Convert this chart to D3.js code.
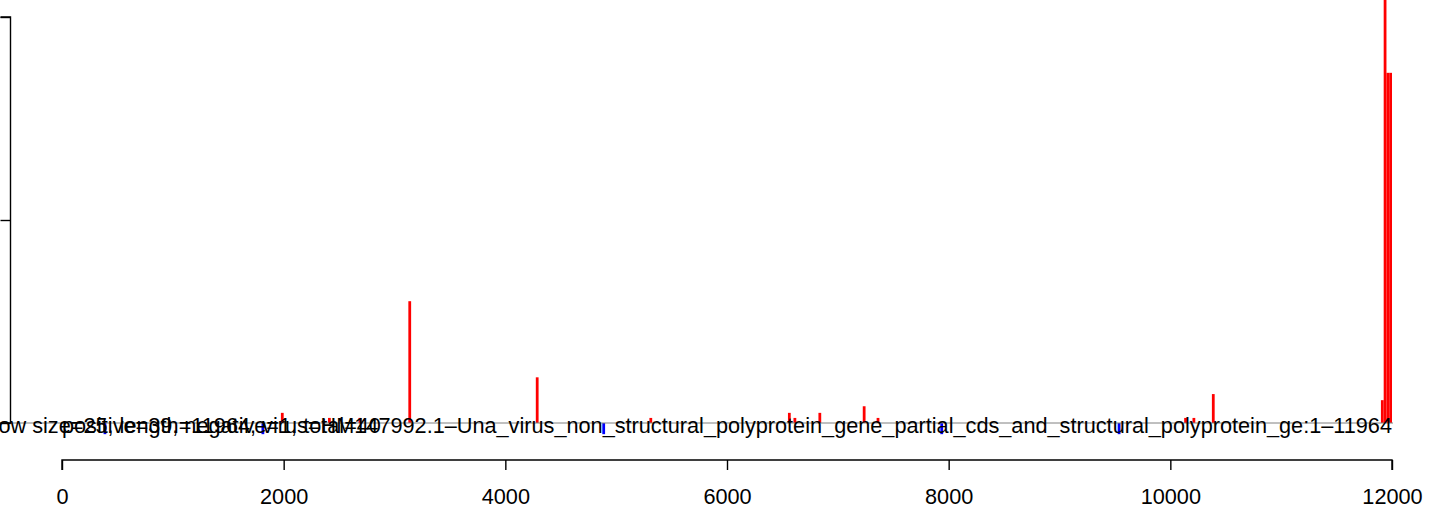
<!DOCTYPE html>
<html>
<head>
<meta charset="utf-8">
<script src="https://cdn.jsdelivr.net/npm/d3@7"></script>
<style>
  html, body { margin: 0; padding: 0; background: #fff; }
  svg { display: block; }
</style>
</head>
<body>
<svg id="chart" width="1440" height="510"></svg>
<script>
// ---- data ----
const redPositions = [1975, 2400, 2675, 3125, 4275, 5300, 6550, 6600, 6825, 7225, 7350, 10125, 10200, 10375, 11900, 11925, 11950, 11975];
const redValues    = [2, 1, 1, 24, 9, 1, 2, 1, 2, 3.3, 1, 1, 1, 5.7, 4.5, 84, 69, 69];
const bluePositions = [375, 1800, 4875, 7925, 9525];
const blueValues    = [-2.2, -2.2, -2.2, -2.2, -2.2];
const binWidth = 25;
const xTickValues = [0, 2000, 4000, 6000, 8000, 10000, 12000];
const yTickValues = [0, 40, 80];
const annotationMain = "window size=25, length=11964, virus=HM147992.1\u2013Una_virus_non_structural_polyprotein_gene_partial_cds_and_structural_polyprotein_ge:1\u201311964";
const annotationCounts = "positive=39, negative=1, total=40";

// ---- drawing ----
const svg = d3.select("#chart");
const font = "'Liberation Sans', Arial, Helvetica, sans-serif";
const fs = 21.7;

const x = d3.scaleLinear().domain([0, 12000]).range([62, 1392]);
const y = d3.scaleLinear().domain([0, 80]).range([423, 17]);

svg.append("rect").attr("width", 1440).attr("height", 510).attr("fill", "#fff");

const red = redPositions.map((p, i) => ({ p, v: redValues[i] }));
const blue = bluePositions.map((p, i) => ({ p, v: blueValues[i] }));

svg.append("g").selectAll("rect").data(red).join("rect")
  .attr("x", d => x(d.p))
  .attr("width", d => x(d.p + binWidth) - x(d.p))
  .attr("y", d => y(d.v))
  .attr("height", d => y(0) - y(d.v))
  .attr("fill", "#ff0000");

svg.append("g").selectAll("rect").data(blue).join("rect")
  .attr("x", d => x(d.p))
  .attr("width", d => x(d.p + binWidth) - x(d.p))
  .attr("y", y(0))
  .attr("height", d => y(d.v) - y(0))
  .attr("fill", "#0000ff");

// baseline
svg.append("line")
  .attr("x1", 0).attr("x2", 1393)
  .attr("y1", y(0)).attr("y2", y(0))
  .attr("stroke", "#808080").attr("stroke-width", 1);

// y axis (labels fall off-canvas)
const yAxis = d3.axisLeft(y).tickValues(yTickValues).tickSize(10).tickPadding(6);
const gy = svg.append("g").attr("transform", "translate(10.5,0)").call(yAxis);
gy.select(".domain").attr("d", `M-10,${y(80)}H0V${y(0)}H-10`).attr("stroke", "#000").attr("stroke-width", 1.4);
gy.selectAll(".tick line").attr("stroke", "#000").attr("stroke-width", 1.4);
gy.selectAll(".tick text").attr("font-family", font).attr("font-size", fs).attr("fill", "#000");

// x axis
const xAxis = d3.axisBottom(x).tickValues(xTickValues).tickSize(10).tickPadding(19).tickFormat(d3.format("d"));
const gx = svg.append("g").attr("transform", "translate(0,460)").call(xAxis);
gx.select(".domain").attr("d", `M${x(0)},10V0H${x(12000)}V10`).attr("stroke", "#000").attr("stroke-width", 1.4);
gx.selectAll(".tick line").attr("stroke", "#000").attr("stroke-width", 1.4);
gx.selectAll(".tick text").attr("font-family", font).attr("font-size", fs).attr("fill", "#000");

// annotations
svg.append("text")
  .attr("x", x(12000)).attr("y", 433)
  .attr("text-anchor", "end")
  .attr("font-family", font).attr("font-size", fs).attr("fill", "#000")
  .text(annotationMain);
svg.append("text")
  .attr("x", x(0)).attr("y", 433)
  .attr("text-anchor", "start")
  .attr("font-family", font).attr("font-size", fs).attr("fill", "#000")
  .text(annotationCounts);
</script>
</body>
</html>
